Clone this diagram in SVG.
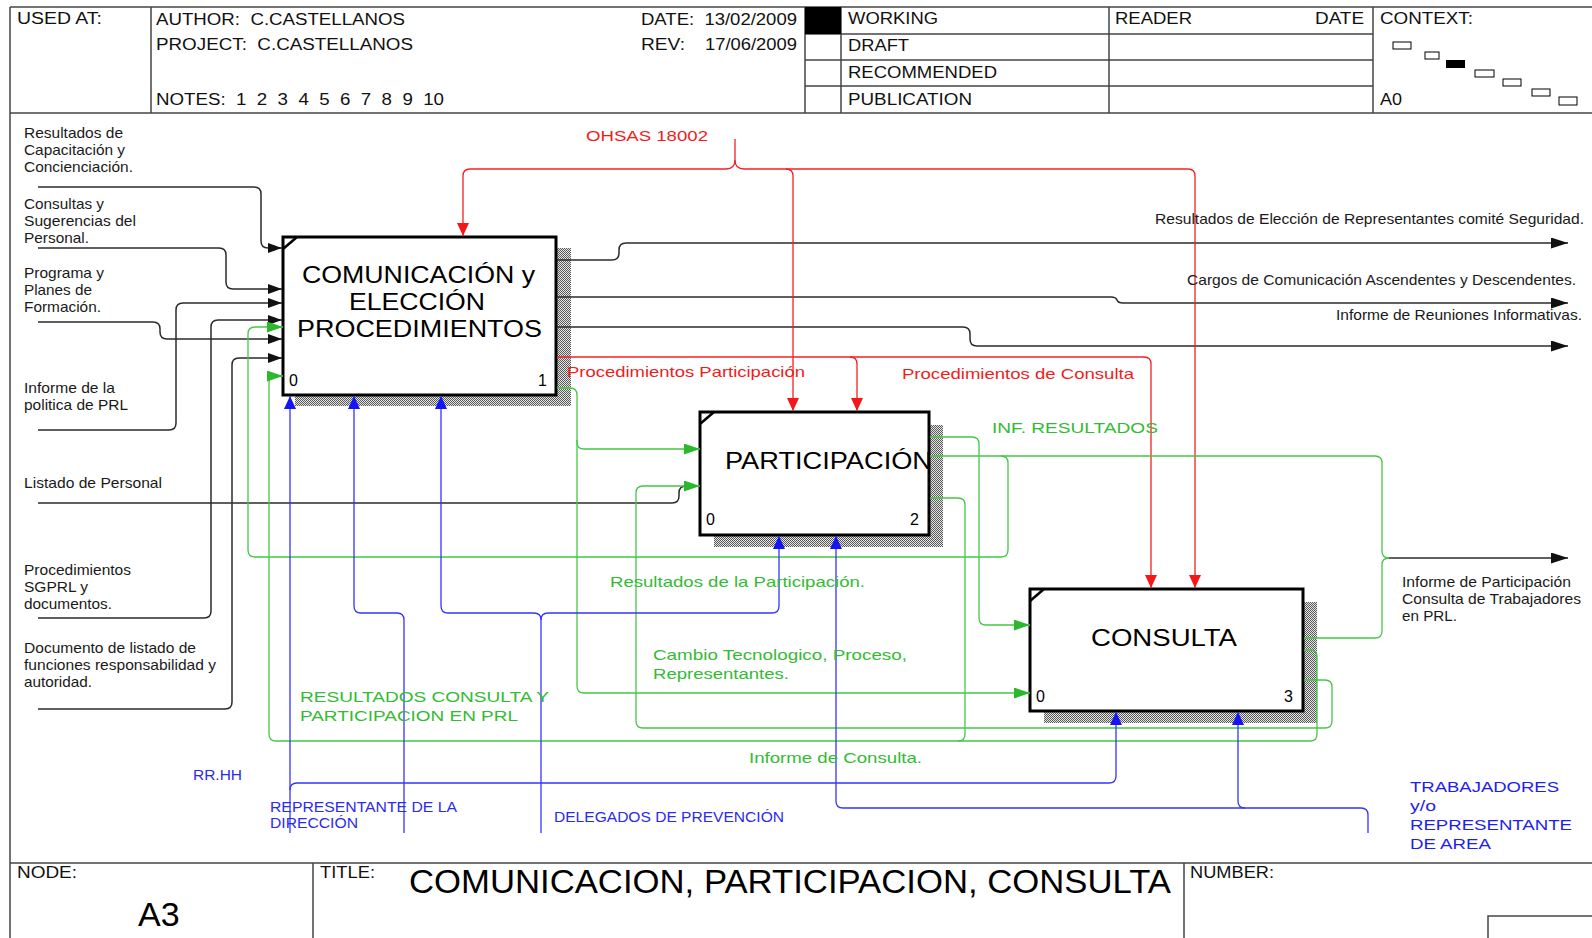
<svg xmlns="http://www.w3.org/2000/svg" width="1592" height="938" viewBox="0 0 1592 938">
<defs>
  <pattern id="hatch" width="2" height="2" patternUnits="userSpaceOnUse">
    <rect width="2" height="2" fill="#e4e4e4"/>
    <rect width="1" height="1" fill="#5a5a5a"/>
    <rect x="1" y="1" width="1" height="1" fill="#5a5a5a"/>
  </pattern>
  <marker id="aK" viewBox="0 0 14 10" refX="14" refY="5" markerWidth="14" markerHeight="10" markerUnits="userSpaceOnUse" orient="auto"><path d="M0,0 L14,5 L0,10 z" fill="#111"/></marker>
  <marker id="aKo" viewBox="0 0 17 11" refX="17" refY="5.5" markerWidth="17" markerHeight="11" markerUnits="userSpaceOnUse" orient="auto"><path d="M0,0 L17,5.5 L0,11 z" fill="#111"/></marker>
  <marker id="aG" viewBox="0 0 16 11" refX="16" refY="5.5" markerWidth="16" markerHeight="11" markerUnits="userSpaceOnUse" orient="auto"><path d="M0,0 L16,5.5 L0,11 z" fill="#2cb82c"/></marker>
  <marker id="aR" viewBox="0 0 13 12" refX="13" refY="6" markerWidth="13" markerHeight="12" markerUnits="userSpaceOnUse" orient="auto"><path d="M0,0 L13,6 L0,12 z" fill="#f21818"/></marker>
  <marker id="aB" viewBox="0 0 13 12" refX="13" refY="6" markerWidth="13" markerHeight="12" markerUnits="userSpaceOnUse" orient="auto"><path d="M0,0 L13,6 L0,12 z" fill="#1414f5"/></marker>
</defs>
<style>
  text{font-family:"Liberation Sans",Arial,sans-serif;white-space:pre}
  .frame{fill:none;stroke:#454545;stroke-width:1.5}
  .hdr{font-size:16px;fill:#111}
  .lbl{font-size:14.5px;fill:#1a1a1a}
  .tr{font-size:15px;fill:#f01c1c}
  .tg{font-size:15px;fill:#33bb33}
  .tb{font-size:14px;fill:#2a2af0}
  .tbl{font-size:15.5px;fill:#1e1ef0}
  .box{fill:#fff;stroke:#000;stroke-width:3}
  .shadow{fill:url(#hatch)}
  .corner{stroke:#000;stroke-width:2.5}
  .ttl{font-size:23px;fill:#000}
  .num{font-size:16px;fill:#000}
  .k{fill:none;stroke:#2b2b2b;stroke-width:1.5}
  .r{fill:none;stroke:#f42020;stroke-width:1.3}
  .g{fill:none;stroke:#44c844;stroke-width:1.3}
  .b{fill:none;stroke:#3535ff;stroke-width:1.3}
  .ctx{fill:#fff;stroke:#000;stroke-width:1}
</style>
<rect width="1592" height="938" fill="#fff"/>

<!-- form frame: header and footer -->
<g id="frame">
  <path class="frame" d="M10,7 H1592 M10,7 V938 M10,113 H1592 M151,7 V113 M805,7 V113 M841,7 V113 M1109,7 V113 M1373,7 V113 M805,34 H1373 M805,60 H1373 M805,86 H1373"/>
  <rect x="805" y="7" width="36" height="27" fill="#000"/>
  <path class="frame" d="M10,863 H1592 M313,863 V938 M1184,863 V938"/>
  <rect x="1488" y="916" width="110" height="30" class="frame"/>
  <rect class="ctx" x="1393" y="42" width="18" height="7"/>
  <rect class="ctx" x="1425" y="52" width="14" height="7"/>
  <rect x="1446" y="60" width="19" height="8" fill="#000"/>
  <rect class="ctx" x="1475" y="70" width="19" height="7"/>
  <rect class="ctx" x="1503" y="79" width="18" height="7"/>
  <rect class="ctx" x="1532" y="89" width="18" height="7"/>
  <rect class="ctx" x="1559" y="97" width="18" height="8"/>
  <g class="hdr">
    <text x="17" y="24" textLength="85" lengthAdjust="spacingAndGlyphs">USED AT:</text>
    <text x="156" y="25" textLength="249" lengthAdjust="spacingAndGlyphs">AUTHOR:  C.CASTELLANOS</text>
    <text x="156" y="50" textLength="257" lengthAdjust="spacingAndGlyphs">PROJECT:  C.CASTELLANOS</text>
    <text x="156" y="105" textLength="288" lengthAdjust="spacingAndGlyphs">NOTES:  1  2  3  4  5  6  7  8  9  10</text>
    <text x="641" y="25" textLength="156" lengthAdjust="spacingAndGlyphs">DATE:  13/02/2009</text>
    <text x="641" y="50" textLength="44" lengthAdjust="spacingAndGlyphs">REV:</text>
    <text x="705" y="50" textLength="92" lengthAdjust="spacingAndGlyphs">17/06/2009</text>
    <text x="848" y="24" textLength="90" lengthAdjust="spacingAndGlyphs">WORKING</text>
    <text x="848" y="51" textLength="61" lengthAdjust="spacingAndGlyphs">DRAFT</text>
    <text x="848" y="78" textLength="149" lengthAdjust="spacingAndGlyphs">RECOMMENDED</text>
    <text x="848" y="105" textLength="124" lengthAdjust="spacingAndGlyphs">PUBLICATION</text>
    <text x="1115" y="24" textLength="77" lengthAdjust="spacingAndGlyphs">READER</text>
    <text x="1315" y="24" textLength="49" lengthAdjust="spacingAndGlyphs">DATE</text>
    <text x="1380" y="24" textLength="93" lengthAdjust="spacingAndGlyphs">CONTEXT:</text>
    <text x="1380" y="105" textLength="22" lengthAdjust="spacingAndGlyphs">A0</text>
    <text x="17" y="878" textLength="60" lengthAdjust="spacingAndGlyphs">NODE:</text>
    <text x="320" y="878" textLength="55" lengthAdjust="spacingAndGlyphs">TITLE:</text>
    <text x="1190" y="878" textLength="84" lengthAdjust="spacingAndGlyphs">NUMBER:</text>
  </g>
  <text x="138" y="926" font-size="34" fill="#000">A3</text>
  <text x="409" y="893" font-size="34" fill="#000" textLength="762" lengthAdjust="spacingAndGlyphs">COMUNICACION, PARTICIPACION, CONSULTA</text>
</g>

<!-- activity boxes -->
<g id="node-a31">
  <rect class="shadow" x="295" y="248" width="276" height="158"/>
  <rect class="box" x="283" y="237" width="273" height="158"/>
  <line class="corner" x1="283" y1="249" x2="297" y2="237"/>
  <text class="ttl" x="302" y="283" textLength="233" lengthAdjust="spacingAndGlyphs">COMUNICACIÓN y</text>
  <text class="ttl" x="349" y="310" textLength="136" lengthAdjust="spacingAndGlyphs">ELECCIÓN</text>
  <text class="ttl" x="297" y="337" textLength="245" lengthAdjust="spacingAndGlyphs">PROCEDIMIENTOS</text>
  <text class="num" x="289" y="386">0</text>
  <text class="num" x="538" y="386">1</text>
</g>
<g id="node-a32">
  <rect class="shadow" x="714" y="425" width="229" height="122"/>
  <rect class="box" x="700" y="412" width="229" height="123"/>
  <line class="corner" x1="700" y1="424" x2="714" y2="412"/>
  <text class="ttl" x="725" y="469" textLength="207" lengthAdjust="spacingAndGlyphs">PARTICIPACIÓN</text>
  <text class="num" x="706" y="525">0</text>
  <text class="num" x="910" y="525">2</text>
</g>
<g id="node-a33">
  <rect class="shadow" x="1044" y="602" width="273" height="121"/>
  <rect class="box" x="1030" y="589" width="273" height="122"/>
  <line class="corner" x1="1030" y1="601" x2="1044" y2="589"/>
  <text class="ttl" x="1091" y="646" textLength="146" lengthAdjust="spacingAndGlyphs">CONSULTA</text>
  <text class="num" x="1036" y="702">0</text>
  <text class="num" x="1284" y="702">3</text>
</g>

<!-- arrows -->
<g id="connectors">
  <!-- inputs to box 1 -->
  <path class="k" marker-end="url(#aK)" d="M38,187 H254 Q261,187 261,194 V241 Q261,248 268,248 H282"/>
  <path class="k" marker-end="url(#aK)" d="M38,248 H219 Q226,248 226,255 V282 Q226,289 233,289 H282"/>
  <path class="k" marker-end="url(#aK)" d="M38,430 H169 Q176,430 176,423 V310 Q176,303 183,303 H282"/>
  <path class="k" marker-end="url(#aK)" d="M38,618 H204 Q211,618 211,611 V327 Q211,320 218,320 H282"/>
  <path class="k" marker-end="url(#aK)" d="M38,322 H153 Q160,322 160,329 V332 Q160,339 167,339 H282"/>
  <path class="k" marker-end="url(#aK)" d="M38,709 H225 Q232,709 232,702 V365 Q232,358 239,358 H282"/>
  <path class="k" d="M38,503 H672 Q679,503 679,496 V493 Q679,486 686,486"/>
  <!-- outputs of box 1 -->
  <path class="k" marker-end="url(#aKo)" d="M557,260 H612 Q619,260 619,253 V250 Q619,243 626,243 H1568"/>
  <path class="k" marker-end="url(#aKo)" d="M557,297 H1111 Q1116,297 1117,300 Q1118,303 1123,303 H1568"/>
  <path class="k" marker-end="url(#aKo)" d="M557,327 H963 Q970,327 970,334 V339 Q970,346 977,346 H1568"/>
  <path class="k" marker-end="url(#aKo)" d="M1389,558 H1568"/>

  <!-- controls (red) -->
  <path class="r" d="M735,139 V160"/>
  <path class="r" marker-end="url(#aR)" d="M735,160 Q735,169 726,169 H470 Q463,169 463,176 V236"/>
  <path class="r" marker-end="url(#aR)" d="M735,160 Q735,169 744,169 H1188 Q1195,169 1195,176 V588"/>
  <path class="r" marker-end="url(#aR)" d="M786,169 Q793,169 793,176 V411"/>
  <path class="r" marker-end="url(#aR)" d="M557,357 H850 Q857,357 857,364 V411"/>
  <path class="r" marker-end="url(#aR)" d="M850,357 H1144 Q1151,357 1151,364 V588"/>

  <!-- feedback and flows (green) -->
  <path class="g" marker-end="url(#aG)" d="M557,388 H570 Q577,388 577,395 V442 Q577,449 584,449 H700"/>
  <path class="g" marker-end="url(#aG)" d="M577,440 V686 Q577,693 584,693 H1030"/>
  <path class="g" marker-end="url(#aG)" d="M1304,680 H1325 Q1332,680 1332,687 V721 Q1332,728 1325,728 H643 Q636,728 636,721 V493 Q636,486 643,486 H700"/>
  <path class="g" marker-end="url(#aG)" d="M1304,650 H1310 Q1317,650 1317,657 V734 Q1317,741 1310,741 H276 Q269,741 269,734 V383 Q269,376 276,376 H283"/>
  <path class="g" d="M930,498 H958 Q965,498 965,505 V734 Q965,741 958,741"/>
  <path class="g" marker-end="url(#aG)" d="M930,437 H972 Q979,437 979,444 V618 Q979,625 986,625 H1030"/>
  <path class="g" d="M930,456 H1375 Q1382,456 1382,463 V551 Q1382,558 1389,558"/>
  <path class="g" marker-end="url(#aG)" d="M1001,456 Q1008,456 1008,463 V550 Q1008,557 1001,557 H255 Q248,557 248,550 V334 Q248,327 255,327 H283"/>
  <path class="g" d="M1304,638 H1375 Q1382,638 1382,631 V565 Q1382,558 1389,558"/>

  <!-- mechanisms (blue) -->
  <path class="b" marker-end="url(#aB)" d="M290,833 V396"/>
  <path class="b" marker-end="url(#aB)" d="M290,790 Q290,783 297,783 H1109 Q1116,783 1116,776 V712"/>
  <path class="b" marker-end="url(#aB)" d="M404,833 V620 Q404,613 397,613 H361 Q354,613 354,606 V396"/>
  <path class="b" marker-end="url(#aB)" d="M541,833 V620 Q541,613 534,613 H448 Q441,613 441,606 V396"/>
  <path class="b" marker-end="url(#aB)" d="M541,620 Q541,613 548,613 H772 Q779,613 779,606 V536"/>
  <path class="b" marker-end="url(#aB)" d="M1368,833 V815 Q1368,808 1361,808 H843 Q836,808 836,801 V536"/>
  <path class="b" marker-end="url(#aB)" d="M1245,808 Q1238,808 1238,801 V712"/>
</g>

<!-- arrow labels -->
<g id="labels">
  <g class="lbl">
    <text x="24" y="138" textLength="99" lengthAdjust="spacingAndGlyphs">Resultados de</text>
    <text x="24" y="155" textLength="101" lengthAdjust="spacingAndGlyphs">Capacitación y</text>
    <text x="24" y="172" textLength="109" lengthAdjust="spacingAndGlyphs">Concienciación.</text>
    <text x="24" y="209" textLength="80" lengthAdjust="spacingAndGlyphs">Consultas y</text>
    <text x="24" y="226" textLength="112" lengthAdjust="spacingAndGlyphs">Sugerencias del</text>
    <text x="24" y="243" textLength="65" lengthAdjust="spacingAndGlyphs">Personal.</text>
    <text x="24" y="278" textLength="80" lengthAdjust="spacingAndGlyphs">Programa y</text>
    <text x="24" y="295" textLength="68" lengthAdjust="spacingAndGlyphs">Planes de</text>
    <text x="24" y="312" textLength="77" lengthAdjust="spacingAndGlyphs">Formación.</text>
    <text x="24" y="393" textLength="91" lengthAdjust="spacingAndGlyphs">Informe de la</text>
    <text x="24" y="410" textLength="104" lengthAdjust="spacingAndGlyphs">politica de PRL</text>
    <text x="24" y="488" textLength="138" lengthAdjust="spacingAndGlyphs">Listado de Personal</text>
    <text x="24" y="575" textLength="107" lengthAdjust="spacingAndGlyphs">Procedimientos</text>
    <text x="24" y="592" textLength="64" lengthAdjust="spacingAndGlyphs">SGPRL y</text>
    <text x="24" y="609" textLength="88" lengthAdjust="spacingAndGlyphs">documentos.</text>
    <text x="24" y="653" textLength="172" lengthAdjust="spacingAndGlyphs">Documento de listado de</text>
    <text x="24" y="670" textLength="192" lengthAdjust="spacingAndGlyphs">funciones responsabilidad y</text>
    <text x="24" y="687" textLength="68" lengthAdjust="spacingAndGlyphs">autoridad.</text>
    <text x="1155" y="224" textLength="429" lengthAdjust="spacingAndGlyphs">Resultados de Elección de Representantes comité Seguridad.</text>
    <text x="1187" y="285" textLength="389" lengthAdjust="spacingAndGlyphs">Cargos de Comunicación Ascendentes y Descendentes.</text>
    <text x="1336" y="320" textLength="246" lengthAdjust="spacingAndGlyphs">Informe de Reuniones Informativas.</text>
    <text x="1402" y="587" textLength="169" lengthAdjust="spacingAndGlyphs">Informe de Participación</text>
    <text x="1402" y="604" textLength="179" lengthAdjust="spacingAndGlyphs">Consulta de Trabajadores</text>
    <text x="1402" y="621" textLength="55" lengthAdjust="spacingAndGlyphs">en PRL.</text>
  </g>
  <g class="tr">
    <text x="586" y="141" textLength="122" lengthAdjust="spacingAndGlyphs">OHSAS 18002</text>
    <text x="567" y="377" textLength="238" lengthAdjust="spacingAndGlyphs">Procedimientos Participación</text>
    <text x="902" y="379" textLength="232" lengthAdjust="spacingAndGlyphs">Procedimientos de Consulta</text>
  </g>
  <g class="tg">
    <text x="992" y="433" textLength="166" lengthAdjust="spacingAndGlyphs">INF. RESULTADOS</text>
    <text x="610" y="587" textLength="255" lengthAdjust="spacingAndGlyphs">Resultados de la Participación.</text>
    <text x="653" y="660" textLength="254" lengthAdjust="spacingAndGlyphs">Cambio Tecnologico, Proceso,</text>
    <text x="653" y="679" textLength="136" lengthAdjust="spacingAndGlyphs">Representantes.</text>
    <text x="300" y="702" textLength="249" lengthAdjust="spacingAndGlyphs">RESULTADOS CONSULTA Y</text>
    <text x="300" y="721" textLength="218" lengthAdjust="spacingAndGlyphs">PARTICIPACION EN PRL</text>
    <text x="749" y="763" textLength="173" lengthAdjust="spacingAndGlyphs">Informe de Consulta.</text>
  </g>
  <g class="tb">
    <text x="193" y="780" textLength="49" lengthAdjust="spacingAndGlyphs">RR.HH</text>
    <text x="270" y="812" textLength="187" lengthAdjust="spacingAndGlyphs">REPRESENTANTE DE LA</text>
    <text x="270" y="828" textLength="88" lengthAdjust="spacingAndGlyphs">DIRECCIÓN</text>
    <text x="554" y="822" textLength="230" lengthAdjust="spacingAndGlyphs">DELEGADOS DE PREVENCIÓN</text>
  </g>
  <g class="tbl">
    <text x="1410" y="792" textLength="149" lengthAdjust="spacingAndGlyphs">TRABAJADORES</text>
    <text x="1410" y="811" textLength="26" lengthAdjust="spacingAndGlyphs">y/o</text>
    <text x="1410" y="830" textLength="162" lengthAdjust="spacingAndGlyphs">REPRESENTANTE</text>
    <text x="1410" y="849" textLength="81" lengthAdjust="spacingAndGlyphs">DE AREA</text>
  </g>
</g>
</svg>
